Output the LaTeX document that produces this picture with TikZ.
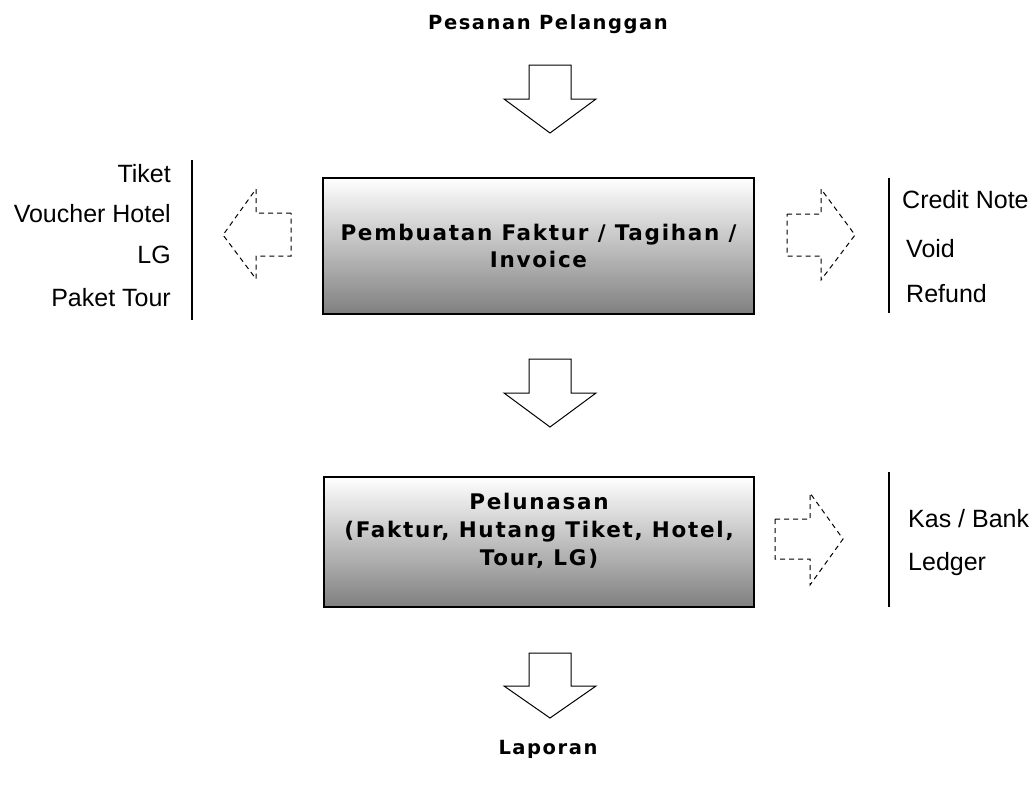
\documentclass[tikz,border=0pt]{standalone}
\usepackage{fontspec}
\setmainfont{Liberation Sans}
\newfontfamily\boxfont[LetterSpace=8]{DejaVu Sans Bold}
\tikzset{
  procbox/.style={draw=black, line width=1.5pt, top color=white, bottom color=black!50, shading angle=0,
    align=center, inner sep=0pt, font=\boxfont\fontsize{21.5}{27}\selectfont},
  boxtext/.style={align=center, inner sep=0pt, font=\boxfont\fontsize{21.5}{28}\selectfont},
  titletext/.style={font=\boxfont\fontsize{19.5}{23}\selectfont, inner sep=0pt},
  sidetext/.style={font=\fontsize{25}{29}\selectfont, inner sep=0pt},
  sepline/.style={draw=black, line width=1.2pt},
  blockarrow/.style={draw=black, line width=1pt, fill=white, line join=miter},
  dasharrow/.style={draw=black, line width=1pt, dash pattern=on 5pt off 4pt},
}
\begin{document}
\begin{tikzpicture}[x=1pt,y=-1pt]
\useasboundingbox (0,0) rectangle (1032,787);
% titles
\node[titletext] (pesanan) at (548,24) {Pesanan Pelanggan};
\node[titletext] (laporan) at (548,749) {Laporan};
% boxes
\node[procbox, minimum width=431pt, minimum height=136pt] (invoice) at (538.5,246)
  {Pembuatan Faktur / Tagihan /\\Invoice};
\node[procbox, minimum width=430pt, minimum height=130pt] (pelunasan) at (539,542) {};
\node[boxtext] (pelunasantext) at (539,531)
  {Pelunasan\\(Faktur, Hutang Tiket, Hotel,\\Tour, LG)};
% down block arrows
\foreach \t/\s/\p in {65/99/133, 359/393/427, 653/686/718}{
  \draw[blockarrow] (529,\t) -- (571,\t) -- (571,\s) -- (596,\s) -- (550,\p) -- (504,\s) -- (529,\s) -- cycle;
}
% left dashed arrow
\draw[dasharrow] (291,213) -- (256,213) -- (256,189) -- (223,235) -- (256,279) -- (256,256) -- (291,256) -- cycle;
% right dashed arrows
\draw[dasharrow] (787,214) -- (821,214) -- (821,189) -- (855,235) -- (821,280) -- (821,256) -- (787,256) -- cycle;
\draw[dasharrow] (775,519) -- (810,519) -- (810,493) -- (843,539) -- (810,585) -- (810,559) -- (775,559) -- cycle;
% separator lines
\coordinate (l1a) at (192,160); \coordinate (l1b) at (192,320);
\coordinate (r1a) at (889,178); \coordinate (r1b) at (889,313);
\coordinate (r2a) at (889,472); \coordinate (r2b) at (889,607);
\draw[sepline] (l1a) -- (l1b);
\draw[sepline] (r1a) -- (r1b);
\draw[sepline] (r2a) -- (r2b);
% left labels
\node[sidetext, anchor=base east] (tiket) at (171,182) {Tiket};
\node[sidetext, anchor=base east] (voucher) at (171,222) {Voucher Hotel};
\node[sidetext, anchor=base east] (lg) at (171,263) {LG};
\node[sidetext, anchor=base east] (paket) at (171,306) {Paket Tour};
% right labels
\node[sidetext, anchor=base west] (credit) at (902,208) {Credit Note};
\node[sidetext, anchor=base west] (void) at (906,257) {Void};
\node[sidetext, anchor=base west] (refund) at (906,302) {Refund};
\node[sidetext, anchor=base west] (kas) at (908,527) {Kas / Bank};
\node[sidetext, anchor=base west] (ledger) at (908,570) {Ledger};
\end{tikzpicture}
\end{document}
